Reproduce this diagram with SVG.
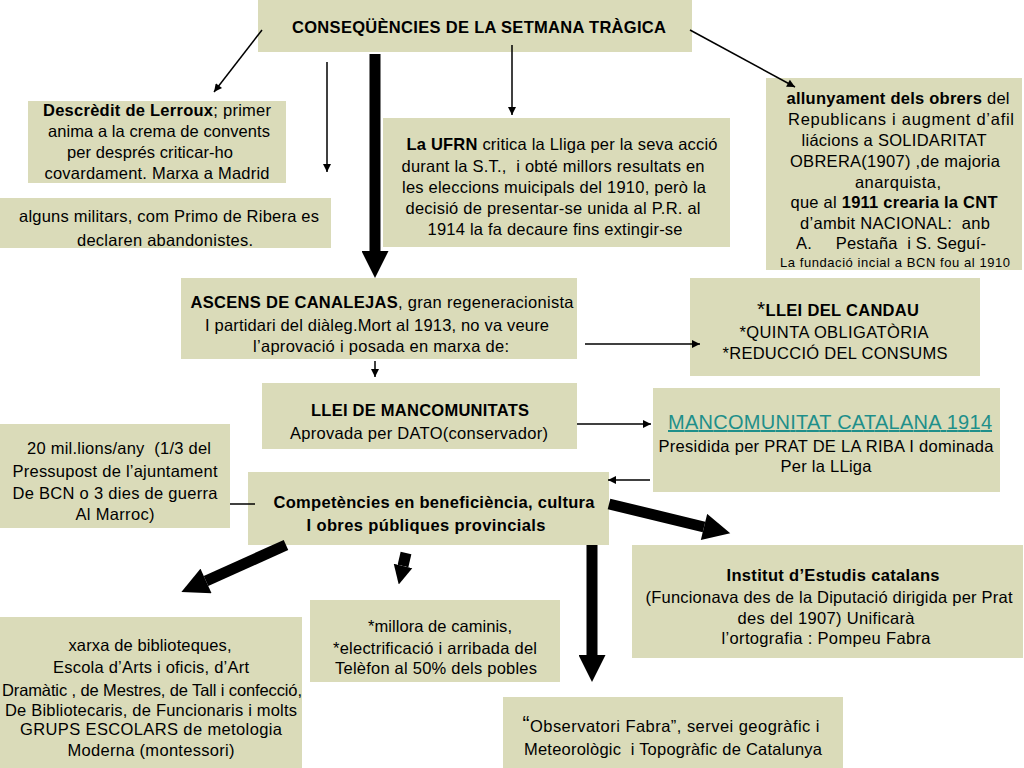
<svg xmlns="http://www.w3.org/2000/svg" width="1024" height="768" viewBox="0 0 1024 768">
<defs>
<style>
.box{fill:#dadbb9;}
text{font-family:"Liberation Sans",Arial,sans-serif;font-size:16.5px;fill:#000;text-anchor:middle;}
.b{font-weight:bold;}
.sm{font-size:13px;}
.link{fill:#1e8f8a;font-size:20px;text-decoration:underline;}
.thin{stroke:#000;stroke-width:1.5;fill:none;}
.thick{stroke:#000;stroke-width:11;fill:none;}
</style>
<marker id="ah" markerUnits="userSpaceOnUse" viewBox="0 0 10 10" refX="10" refY="5" markerWidth="10" markerHeight="8" orient="auto"><path d="M0,0 L10,5 L0,10 z" fill="#000"/></marker>
<marker id="big" markerUnits="userSpaceOnUse" viewBox="0 0 10 10" refX="0" refY="5" markerWidth="28" markerHeight="27" orient="auto"><path d="M0,0 L10,5 L0,10 z" fill="#000"/></marker>
<marker id="mid" markerUnits="userSpaceOnUse" viewBox="0 0 10 10" refX="0" refY="5" markerWidth="19" markerHeight="24" orient="auto"><path d="M0,0 L10,5 L0,10 z" fill="#000"/></marker>
</defs>
<rect width="1024" height="768" fill="#fff"/>

<g id="n-title"><rect class="box" x="258" y="0" width="434" height="52"/>
<text class="b" x="479" y="33" textLength="374" font-size="16">CONSEQÜÈNCIES DE LA SETMANA TRÀGICA</text></g>

<g id="n-lerroux"><rect class="box" x="28" y="101" width="258" height="82"/>
<text x="157" y="116" textLength="228"><tspan class="b">Descrèdit de Lerroux</tspan>; primer</text>
<text x="159" y="137" textLength="222">anima a la crema de convents</text>
<text x="150" y="158" textLength="166">per després criticar-ho</text>
<text x="157" y="179" textLength="225">covardament. Marxa a Madrid</text></g>

<g id="n-militars"><rect class="box" x="0" y="198" width="331" height="50"/>
<text x="169" y="222" textLength="300">alguns militars, com Primo de Ribera es</text>
<text x="165" y="246" textLength="176">declaren abandonistes.</text></g>

<g id="n-ufrn"><rect class="box" x="383" y="118" width="347" height="129"/>
<text x="562" y="150" textLength="311"><tspan class="b">La UFRN</tspan> critica la Lliga per la seva acció</text>
<text x="553" y="172" textLength="303" xml:space="preserve">durant la S.T.,  i obté millors resultats en</text>
<text x="554" y="193" textLength="304">les eleccions muicipals del 1910, però la</text>
<text x="553" y="214" textLength="295">decisió de presentar-se unida al P.R. al</text>
<text x="555" y="235" textLength="255">1914 la fa decaure fins extingir-se</text></g>

<g id="n-obrers"><rect class="box" x="766" y="78" width="256" height="192"/>
<text x="898" y="104" textLength="223"><tspan class="b">allunyament dels obrers</tspan> del</text>
<text x="901" y="125" textLength="226">Republicans i augment d’afil</text>
<text x="894" y="146" textLength="185">liácions a SOLIDARITAT</text>
<text x="895" y="167" textLength="210">OBRERA(1907) ,de majoria</text>
<text x="898" y="188" textLength="86">anarquista,</text>
<text x="894" y="208" textLength="207">que al <tspan class="b">1911 crearia la CNT</tspan></text>
<text x="895" y="229" textLength="190" xml:space="preserve">d’ambit NACIONAL:  anb</text>
<text x="891" y="249" textLength="190" xml:space="preserve">A.     Pestaña  i S. Seguí-</text>
<text class="sm" x="895" y="267" textLength="230">La fundació incial a BCN fou al 1910</text></g>

<g id="n-canalejas"><rect class="box" x="181" y="278" width="396" height="81"/>
<text x="382" y="308" textLength="383"><tspan class="b">ASCENS DE CANALEJAS</tspan>, gran regeneracionista</text>
<text x="377" y="331" textLength="344">I partidari del diàleg.Mort al 1913, no va veure</text>
<text x="381" y="352" textLength="256">l’aprovació i posada en marxa de:</text></g>

<g id="n-candau"><rect class="box" x="690" y="278" width="290" height="98"/>
<text class="b" x="838" y="316" textLength="162"><tspan font-size="21" font-weight="normal">*</tspan>LLEI DEL CANDAU</text>
<text x="834" y="338" textLength="189">*QUINTA OBLIGATÒRIA</text>
<text x="835" y="359" textLength="225">*REDUCCIÓ DEL CONSUMS</text></g>

<g id="n-lleimanc"><rect class="box" x="262" y="383" width="315" height="66"/>
<text class="b" x="420" y="416" textLength="218" font-size="17">LLEI DE MANCOMUNITATS</text>
<text x="419" y="439" textLength="258" font-size="17.5">Aprovada per DATO(conservador)</text></g>

<g id="n-mancomunitat"><rect class="box" x="653" y="388" width="347" height="104"/>
<text class="link" x="830" y="429" textLength="324">MANCOMUNITAT CATALANA 1914</text>
<text x="826" y="452" textLength="335">Presidida per PRAT DE LA RIBA I dominada</text>
<text x="826" y="472" textLength="91">Per la LLiga</text></g>

<g id="n-milions"><rect class="box" x="0" y="424" width="230" height="104"/>
<text x="119" y="454" textLength="184" font-size="17.5" xml:space="preserve">20 mil.lions/any  (1/3 del</text>
<text x="115" y="477" textLength="205" font-size="17.5">Pressupost de l’ajuntament</text>
<text x="115" y="499" textLength="205" font-size="17.5">De BCN o 3 dies de guerra</text>
<text x="115" y="520" textLength="79" font-size="17.5">Al Marroc)</text></g>

<g id="n-competencies"><rect class="box" x="248" y="472" width="361" height="73"/>
<text class="b" x="434" y="508" textLength="321" font-size="17.5">Competències en beneficiència, cultura</text>
<text class="b" x="426" y="531" textLength="239" font-size="17.5">I obres públiques provincials</text></g>

<g id="n-institut"><rect class="box" x="632" y="545" width="391" height="113"/>
<text class="b" x="833" y="581" textLength="213">Institut d’Estudis catalans</text>
<text x="829" y="603" textLength="367">(Funcionava des de la Diputació dirigida per Prat</text>
<text x="826" y="624" textLength="177">des del 1907) Unificarà</text>
<text x="826" y="644" textLength="209">l’ortografia : Pompeu Fabra</text></g>

<g id="n-millora"><rect class="box" x="310" y="600" width="250" height="82"/>
<text x="440" y="632" textLength="144">*millora de caminis,</text>
<text x="435" y="654" textLength="204">*electrificació i arribada del</text>
<text x="436" y="674" textLength="202">Telèfon al 50% dels pobles</text></g>

<g id="n-xarxa"><rect class="box" x="0" y="617" width="302" height="151"/>
<text x="150" y="651" textLength="163">xarxa de biblioteques,</text>
<text x="151" y="673" textLength="196">Escola d’Arts i oficis, d’Art</text>
<text x="152" y="696" textLength="300">Dramàtic , de Mestres, de Tall i confecció,</text>
<text x="151" y="716" textLength="292">De Bibliotecaris, de Funcionaris i molts</text>
<text x="151" y="735" textLength="262">GRUPS ESCOLARS de metologia</text>
<text x="151" y="756" textLength="167">Moderna (montessori)</text></g>

<g id="n-observatori"><rect class="box" x="503" y="697" width="340" height="71"/>
<text x="671" y="732" textLength="297" font-size="17"><tspan font-size="21" dy="-2">“</tspan><tspan dy="2">Observatori Fabra”, servei geogràfic i</tspan></text>
<text x="673" y="755" textLength="298" font-size="17" xml:space="preserve">Meteorològic  i Topogràfic de Catalunya</text></g>

<g id="connectors">
<line class="thin" x1="262" y1="30" x2="214" y2="92" marker-end="url(#ah)"/>
<line class="thin" x1="327" y1="62" x2="327" y2="172" marker-end="url(#ah)"/>
<line class="thin" x1="512" y1="45" x2="512" y2="115" marker-end="url(#ah)"/>
<line class="thin" x1="690" y1="30" x2="795" y2="87" marker-end="url(#ah)"/>
<line class="thin" x1="375" y1="361" x2="375" y2="377" marker-end="url(#ah)"/>
<line class="thin" x1="585" y1="344" x2="700" y2="344" marker-end="url(#ah)"/>
<line class="thin" x1="577" y1="424" x2="651" y2="424" marker-end="url(#ah)"/>
<line class="thin" x1="650" y1="480" x2="608" y2="480" marker-end="url(#ah)"/>
<line class="thin" x1="230" y1="504" x2="255" y2="504"/>
<line class="thick" x1="375" y1="54" x2="375" y2="251" marker-end="url(#big)"/>
<line class="thick" x1="286" y1="545" x2="206" y2="581" marker-end="url(#big)"/>
<line class="thick" x1="406" y1="553" x2="403" y2="566" marker-end="url(#mid)"/>
<line class="thick" x1="609" y1="504" x2="704" y2="527" marker-end="url(#big)"/>
<line class="thick" x1="592" y1="545" x2="592" y2="655" marker-end="url(#big)"/>
</g>
</svg>
